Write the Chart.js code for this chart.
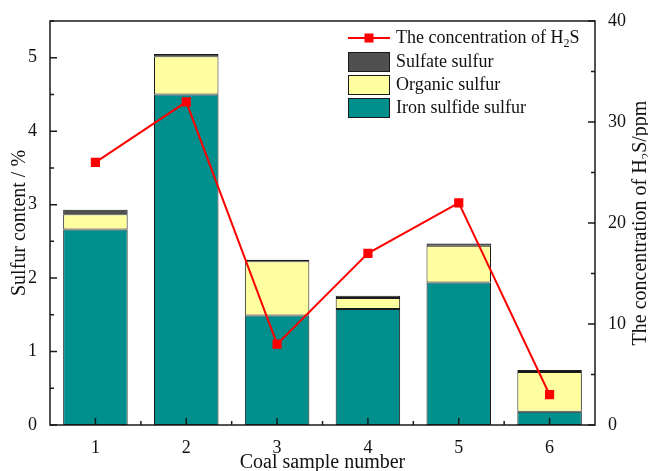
<!DOCTYPE html>
<html>
<head>
<meta charset="utf-8">
<script src="https://cdn.jsdelivr.net/npm/chart.js@4.4.1/dist/chart.umd.min.js"></script>
<style>
  html, body { margin: 0; padding: 0; background: #fff; }
  #wrap { width: 648px; height: 471px; }
</style>
</head>
<body>
<div id="wrap"><canvas id="chart" width="648" height="471"></canvas></div>
<script>
const categories = ['1', '2', '3', '4', '5', '6'];
const ironSulfide = [2.66, 4.50, 1.49, 1.58, 1.94, 0.18];
const organic = [0.21, 0.52, 0.74, 0.15, 0.50, 0.54];
const sulfate = [0.06, 0.03, 0.02, 0.03, 0.03, 0.03];
const h2s = [26, 32, 8, 17, 22, 3];

const FONT = '"Liberation Serif", "Times New Roman", serif';
const TEAL = '#008f8c';
const YELLOW = '#ffffa0';
const GREY = '#505050';
const RED = '#ff0000';
const INK = '#1a1a1a';

// draws text with subscripts, parts = [[text, isSub], ...]
function drawParts(ctx, parts, x, y, size) {
  const subSize = Math.round(size * 0.66);
  let total = 0;
  parts.forEach(([t, sub]) => {
    ctx.font = (sub ? subSize : size) + 'px ' + FONT;
    total += ctx.measureText(t).width;
  });
  let cx = x - total / 2;
  ctx.textAlign = 'left';
  ctx.textBaseline = 'middle';
  parts.forEach(([t, sub]) => {
    ctx.font = (sub ? subSize : size) + 'px ' + FONT;
    ctx.fillText(t, cx, sub ? y + size * 0.3 : y);
    cx += ctx.measureText(t).width;
  });
}

const decor = {
  id: 'decor',
  afterDraw(chart) {
    const { ctx, chartArea: a, scales } = chart;
    ctx.save();
    ctx.strokeStyle = INK;
    ctx.fillStyle = INK;
    ctx.lineWidth = 1.5;
    ctx.strokeRect(a.left, a.top, a.right - a.left, a.bottom - a.top);

    ctx.beginPath();
    // left axis ticks (inward)
    for (let v = 0; v <= 5.5; v += 0.5) {
      const y = scales.y.getPixelForValue(v);
      const len = Number.isInteger(v) ? 7 : 4;
      ctx.moveTo(a.left, y); ctx.lineTo(a.left + len, y);
    }
    // right axis ticks
    for (let v = 0; v <= 40; v += 5) {
      const y = scales.y1.getPixelForValue(v);
      const len = v % 10 === 0 ? 7 : 4;
      ctx.moveTo(a.right, y); ctx.lineTo(a.right - len, y);
    }
    // bottom ticks
    categories.forEach((c, i) => {
      const x = scales.x.getPixelForValue(i);
      ctx.moveTo(x, a.bottom); ctx.lineTo(x, a.bottom - 7);
      if (i < categories.length - 1) {
        const xm = (x + scales.x.getPixelForValue(i + 1)) / 2;
        ctx.moveTo(xm, a.bottom); ctx.lineTo(xm, a.bottom - 4);
      }
    });
    ctx.stroke();

    // axis titles
    ctx.fillStyle = '#111';
    ctx.font = '20px ' + FONT;
    ctx.textAlign = 'center';
    ctx.textBaseline = 'middle';
    ctx.fillText('Coal sample number', (a.left + a.right) / 2, 463);

    ctx.save();
    ctx.translate(20, (a.top + a.bottom) / 2);
    ctx.rotate(-Math.PI / 2);
    ctx.fillText('Sulfur content / %', 0, 0);
    ctx.restore();

    ctx.save();
    ctx.translate(641, (a.top + a.bottom) / 2);
    ctx.rotate(-Math.PI / 2);
    drawParts(ctx, [['The concentration of H', false], ['2', true], ['S/ppm', false]], 0, 0, 20);
    ctx.restore();

    // legend
    const lx = 348, tx = 396;
    ctx.strokeStyle = RED;
    ctx.lineWidth = 2;
    ctx.beginPath(); ctx.moveTo(lx, 38); ctx.lineTo(lx + 42, 38); ctx.stroke();
    ctx.fillStyle = RED;
    ctx.fillRect(lx + 21 - 4.5, 38 - 4.5, 9, 9);
    ctx.fillStyle = '#111';
    const h = drawLegendText(ctx, tx, 38);

    const rows = [[GREY, 'Sulfate sulfur', 52], [YELLOW, 'Organic sulfur', 75], [TEAL, 'Iron sulfide sulfur', 98]];
    rows.forEach(([col, label, y]) => {
      ctx.fillStyle = col;
      ctx.fillRect(lx, y, 42, 20);
      ctx.strokeStyle = INK;
      ctx.lineWidth = 1;
      ctx.strokeRect(lx + 0.5, y + 0.5, 41, 19);
      ctx.fillStyle = '#111';
      ctx.font = '18px ' + FONT;
      ctx.textAlign = 'left';
      ctx.textBaseline = 'middle';
      ctx.fillText(label, tx, y + 10);
    });
    ctx.restore();
  }
};

function drawLegendText(ctx, x, y) {
  const parts = [['The concentration of H', false], ['2', true], ['S', false]];
  let w = 0;
  parts.forEach(([t, sub]) => { ctx.font = (sub ? 12 : 18) + 'px ' + FONT; w += ctx.measureText(t).width; });
  drawParts(ctx, parts, x + w / 2, y, 18);
}

const barStyle = { borderColor: INK, borderWidth: 1, borderSkipped: false, order: 1, yAxisID: 'y', barPercentage: 0.71, categoryPercentage: 1 };

new Chart(document.getElementById('chart'), {
  type: 'bar',
  data: {
    labels: categories,
    datasets: [
      { type: 'line', label: 'The concentration of H2S', data: h2s, yAxisID: 'y1', order: 0,
        borderColor: RED, backgroundColor: RED, borderWidth: 2, pointStyle: 'rect',
        pointRadius: 6.5, pointBackgroundColor: RED, pointBorderColor: RED, pointBorderWidth: 0, tension: 0, stack: 'line' },
      { ...barStyle, label: 'Iron sulfide sulfur', data: ironSulfide, backgroundColor: TEAL, stack: 's' },
      { ...barStyle, label: 'Organic sulfur', data: organic, backgroundColor: YELLOW, stack: 's' },
      { ...barStyle, label: 'Sulfate sulfur', data: sulfate, backgroundColor: GREY, stack: 's' },
    ]
  },
  options: {
    responsive: false,
    animation: false,
    devicePixelRatio: 1,
    layout: { padding: { top: 21, left: 0, right: 0, bottom: 0 } },
    plugins: { legend: { display: false }, tooltip: { enabled: false } },
    scales: {
      x: {
        stacked: true,
        grid: { display: false }, border: { display: false },
        ticks: { color: '#111', font: { family: FONT, size: 18 }, padding: 4 },
        afterFit: s => { s.height = 46; }
      },
      y: {
        stacked: true, min: 0, max: 5.5, position: 'left',
        grid: { display: false }, border: { display: false },
        ticks: { stepSize: 1, color: '#111', font: { family: FONT, size: 18 }, padding: 5 },
        afterBuildTicks: s => { s.ticks = s.ticks.filter(t => Number.isInteger(t.value)); },
        afterFit: s => { s.width = 50; }
      },
      y1: {
        min: 0, max: 40, position: 'right',
        grid: { display: false }, border: { display: false },
        ticks: { stepSize: 10, color: '#111', font: { family: FONT, size: 18 }, padding: 5 },
        afterFit: s => { s.width = 53; }
      }
    }
  },
  plugins: [decor]
});
</script>
</body>
</html>
